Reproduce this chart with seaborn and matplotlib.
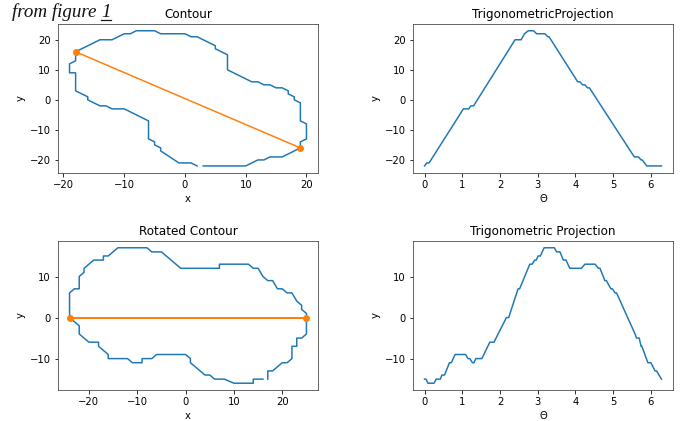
import matplotlib
matplotlib.use("Agg")
import matplotlib.pyplot as plt
from matplotlib.lines import Line2D
import seaborn as sns

# Contour traced around the shape (pixel coordinates, centred)
contour_x = [2, 1, -1, -4, -4, -5, -5, -6, -6, -10, -12, -13, -14, -16, -16, -18, -18, -19, -19, -18,
             -18, -14, -12, -10, -9, -8, -5, -4, 0, 1, 2, 5, 5, 7, 7, 11, 12, 13, 14, 15,
             16, 17, 17, 18, 18, 19, 19, 20, 20, 19, 19, 16, 14, 13, 12, 10, 3]
contour_y = [-22, -21, -21, -17, -16, -15, -14, -13, -7, -3, -3, -2, -2, 0, 1, 3, 9, 9, 12, 13,
             16, 20, 20, 22, 22, 23, 23, 22, 22, 21, 21, 18, 17, 15, 10, 6, 6, 5, 5, 4,
             4, 3, 2, 1, 0, -1, -7, -8, -13, -14, -16, -19, -19, -20, -20, -22, -22]

# Longest chord of the contour (its two end points)
diam_x = [-18, 19]
diam_y = [16, -16]

# Contour rotated so the longest chord lies on the x axis
rot_x = [16, 14, 14, 10, 8, 6, 5, 4, 3, 2, 1, 1, 0, -6, -7, -9, -9, -11, -12, -16,
         -16, -18, -18, -20, -22, -22, -23, -24, -24, -23, -22, -22, -21, -21, -19, -17, -17, -16, -14, -8,
         -7, -5, -1, 7, 7, 13, 14, 15, 16, 17, 18, 19, 20, 21, 22, 23, 24, 24, 25, 25,
         24, 23, 23, 22, 22, 21, 20, 19, 18, 17, 17]
rot_y = [-15, -15, -16, -16, -15, -15, -14, -14, -13, -12, -11, -10, -9, -9, -10, -10, -11, -11, -10, -10,
         -9, -7, -6, -6, -4, -2, -1, 0, 6, 7, 7, 10, 11, 12, 14, 14, 15, 15, 17, 17,
         16, 16, 12, 12, 13, 13, 12, 12, 10, 9, 9, 7, 7, 6, 6, 4, 3, 2, 1, -4,
         -5, -5, -7, -7, -10, -11, -11, -12, -13, -13, -15]

rot_diam_x = [-24, 25]
rot_diam_y = [0, 0]

# y coordinate of the contour against the angle parameter
theta_1 = [0, 0.06, 0.12, 1.03, 1.17, 1.23, 1.30, 2.40, 2.56, 2.65, 2.75, 2.89, 2.97, 3.19,
           3.27, 3.30, 4.06, 4.12, 4.19, 4.25, 4.32, 4.37, 5.56, 5.67, 5.74, 5.77, 5.89, 6.28]
proj_1 = [-22, -21, -21, -3, -3, -2, -2, 20, 20, 22, 23, 23, 22, 22,
          21, 21, 6, 6, 5, 5, 4, 4, -19, -19, -20, -20, -22, -22]

theta_2 = [0, 0.04, 0.09, 0.25, 0.31, 0.42, 0.46, 0.53, 0.66, 0.71, 0.81, 1.09, 1.15, 1.20,
           1.27, 1.31, 1.36, 1.52, 1.73, 1.84, 2.17, 2.23, 2.48, 2.52, 2.61, 2.79, 2.85, 2.92,
           2.96, 3.01, 3.07, 3.17, 3.44, 3.50, 3.59, 3.68, 3.75, 3.85, 4.16, 4.25, 4.52, 4.61,
           4.65, 4.78, 4.82, 4.94, 4.98, 5.05, 5.09, 5.58, 5.62, 5.69, 5.74, 5.76, 5.92, 6.00,
           6.11, 6.15, 6.28]
proj_2 = [-15, -15, -16, -16, -15, -15, -14, -14, -11, -11, -9, -9, -10, -10,
          -11, -11, -10, -10, -6, -6, 0, 0, 7, 7, 9, 13, 13, 14,
          14, 15, 15, 17, 17, 16, 16, 14, 14, 12, 12, 13, 13, 12,
          12, 9, 9, 7, 7, 6, 6, -4, -5, -5, -7, -7, -11, -11,
          -13, -13, -15]

W, H, DPI = 680, 421, 72
fig = plt.figure(figsize=(W / DPI, H / DPI), dpi=DPI)


def px_axes(left, top, right, bottom):
    return fig.add_axes([left / W, 1 - bottom / H, (right - left) / W, (bottom - top) / H])


ax_c = px_axes(57.7, 24, 318.3, 172.7)
ax_t1 = px_axes(412.7, 24, 673.3, 172.7)
ax_r = px_axes(57.7, 241, 318.3, 390)
ax_t2 = px_axes(412.7, 241, 673.3, 390)

blue, orange = "#1f77b4", "#ff7f0e"
dot = dict(marker="o", markersize=7, markeredgecolor=orange, markeredgewidth=0)

sns.lineplot(x=contour_x, y=contour_y, sort=False, estimator=None, color=blue, lw=1.5, ax=ax_c)
sns.lineplot(x=diam_x, y=diam_y, sort=False, estimator=None, color=orange, lw=1.5, ax=ax_c, **dot)
ax_c.set_title("Contour", fontsize=12)
ax_c.set_xlabel("x")
ax_c.set_ylabel("y")
ax_c.set_xticks([-20, -10, 0, 10, 20])
ax_c.set_yticks([-20, -10, 0, 10, 20])

sns.lineplot(x=theta_1, y=proj_1, sort=False, estimator=None, color=blue, lw=1.5, ax=ax_t1)
ax_t1.set_title("TrigonometricProjection", fontsize=12)
ax_t1.set_xlabel("Θ")
ax_t1.set_ylabel("y")
ax_t1.set_xticks(range(7))
ax_t1.set_yticks([-20, -10, 0, 10, 20])

sns.lineplot(x=rot_x, y=rot_y, sort=False, estimator=None, color=blue, lw=1.5, ax=ax_r)
sns.lineplot(x=rot_diam_x, y=rot_diam_y, sort=False, estimator=None, color=orange, lw=2, ax=ax_r, **dot)
ax_r.set_title("Rotated Contour", fontsize=12)
ax_r.set_xlabel("x")
ax_r.set_ylabel("y")
ax_r.set_xticks([-20, -10, 0, 10, 20])
ax_r.set_yticks([-10, 0, 10])

sns.lineplot(x=theta_2, y=proj_2, sort=False, estimator=None, color=blue, lw=1.5, ax=ax_t2)
ax_t2.set_title("Trigonometric Projection", fontsize=12)
ax_t2.set_xlabel("Θ")
ax_t2.set_ylabel("y")
ax_t2.set_xticks(range(7))
ax_t2.set_yticks([-10, 0, 10])

for ax in (ax_c, ax_t1, ax_r, ax_t2):
    for s in ax.spines.values():
        s.set_color("#444444")

# Caption fragment above the panels, with the figure number underlined
cap_kw = dict(fontsize=19, style="italic", family="Liberation Serif",
              va="baseline", ha="left", color="#111111")
base_y = 1 - 17 / H
cap = fig.text(12 / W, base_y, "from figure ", **cap_kw)
fig.canvas.draw()
renderer = fig.canvas.get_renderer()
cap_box = cap.get_window_extent(renderer)
num = fig.text(cap_box.x1 / W, base_y, "1", **cap_kw)
num_box = num.get_window_extent(renderer)
fig.add_artist(Line2D([num_box.x0 / W, num_box.x1 / W], [1 - 19.5 / H, 1 - 19.5 / H],
                      color="#111111", lw=1.2))

fig.savefig("out.png", dpi=DPI)
